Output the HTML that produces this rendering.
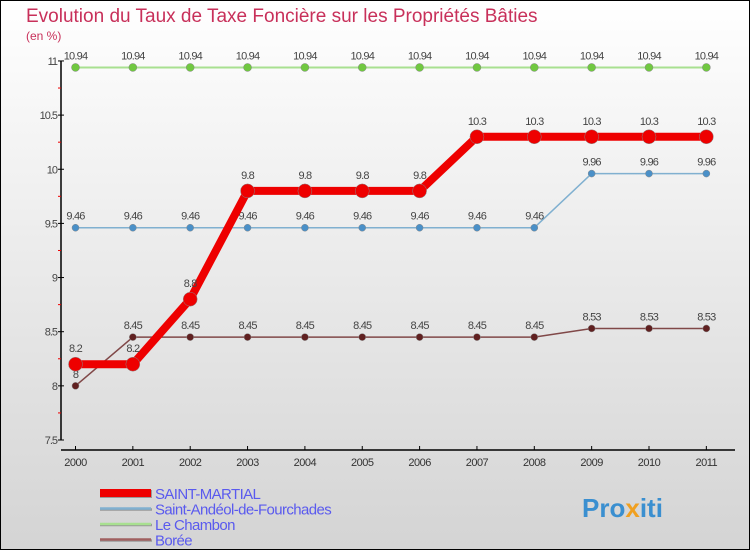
<!DOCTYPE html>
<html><head><meta charset="utf-8"><style>
body{margin:0}
svg text{font-family:"Liberation Sans",sans-serif}
</style></head><body>
<svg width="750" height="550" xmlns="http://www.w3.org/2000/svg">
<defs><linearGradient id="bg" x1="0" y1="0" x2="0" y2="1"><stop offset="0" stop-color="#ffffff"/><stop offset="1" stop-color="#d4d4d4"/></linearGradient></defs>
<rect x="0.5" y="0.5" width="749" height="549" fill="url(#bg)" stroke="#000"/>
<text x="26" y="22" font-size="19" fill="#c8305a">Evolution du Taux de Taxe Foncière sur les Propriétés Bâties</text>
<text x="26" y="40" font-size="12" fill="#c8305a">(en %)</text>
<g id="axes"></g>
<g id="series"></g>
<g id="legend"></g>
<text x="582" y="517" font-size="26" font-weight="bold" fill="#3a8fd0">Pro<tspan fill="#f0a020">x</tspan>iti</text>
</svg>
<script>
const years=["2000","2001","2002","2003","2004","2005","2006","2007","2008","2009","2010","2011"];
const yTicks=[7.5,8,8.5,9,9.5,10,10.5,11];
const saintMartial=[8.2,8.2,8.8,9.8,9.8,9.8,9.8,10.3,10.3,10.3,10.3,10.3];
const saintAndeol=[9.46,9.46,9.46,9.46,9.46,9.46,9.46,9.46,9.46,9.96,9.96,9.96];
const leChambon=[10.94,10.94,10.94,10.94,10.94,10.94,10.94,10.94,10.94,10.94,10.94,10.94];
const boree=[8,8.45,8.45,8.45,8.45,8.45,8.45,8.45,8.45,8.53,8.53,8.53];
const names=["SAINT-MARTIAL","Saint-Andéol-de-Fourchades","Le Chambon","Borée"];
const NS="http://www.w3.org/2000/svg";
const X=i=>75.5+i*57.35;
const Y=v=>440-(v-7.5)*108.3;
function mk(tag,attrs,parent,txt){const e=document.createElementNS(NS,tag);for(const k in attrs)e.setAttribute(k,attrs[k]);if(txt!==undefined)e.textContent=txt;parent.appendChild(e);return e;}
const ax=document.getElementById('axes');
let e=mk('line',{x1:61,y1:Y(11),x2:61,y2:440,stroke:'#000','stroke-width':1.5},ax);


e=mk('line',{x1:61,y1:450,x2:735,y2:450,stroke:'#000','stroke-width':1.5},ax);


yTicks.forEach((v,i)=>{
 mk('line',{x1:58,y1:Y(v),x2:64,y2:Y(v),stroke:'#000'},ax);
 if(i<yTicks.length-1) mk('line',{x1:58,y1:(Y(v)+Y(yTicks[i+1]))/2,x2:61,y2:(Y(v)+Y(yTicks[i+1]))/2,stroke:'#e00'},ax);
 const t=mk('text',{x:57,y:Y(v)+4,'font-size':11,fill:'#444','text-anchor':'end','letter-spacing':'-1'},ax,String(v));
 
 
});
years.forEach((y,i)=>{
 mk('line',{x1:X(i),y1:446,x2:X(i),y2:450,stroke:'#000'},ax);
 const t=mk('text',{x:X(i),y:466,'font-size':11,fill:'#333','text-anchor':'middle','letter-spacing':'-0.5'},ax,y);
 
 
});
const sg=document.getElementById('series');
function series(data,color,width,r,name,dotColor,labelDy){
 const g=mk('g',{},sg);
 
 
 mk('polyline',{points:data.map((v,i)=>X(i)+','+Y(v)).join(' '),fill:'none',stroke:color,'stroke-width':width,'stroke-linejoin':'round'},g);
 data.forEach((v,i)=>{
  const c=mk('circle',{cx:X(i),cy:Y(v),r:r,fill:dotColor,stroke:'#888','stroke-width':0.5},g);
  
  
  const t=mk('text',{x:X(i),y:Y(v)-labelDy,'font-size':11,fill:'#444','text-anchor':'middle','letter-spacing':'-0.8'},g,String(v));
  
  
 });
}
series(leChambon,'#a8e090',2,4,'le-chambon','#70c840',8);
series(saintAndeol,'#80b0d0',1.5,3.5,'saint-andeol','#4a90c8',8);
series(boree,'#804848',1.5,3.5,'boree','#602020',8);
series(saintMartial,'#ee0000',8,7,'saint-martial','#ee0000',12);
const lg=document.getElementById('legend');
const lc=['#ee0000','#80b0d0','#a8e090','#a06060'],lw=[8,2.5,2.5,2.5];
names.forEach((n,i)=>{
 const y=493+i*15.5;
 const g=mk('g',{},lg);
 
 
 mk('line',{x1:100,y1:y+1,x2:152,y2:y+1,stroke:'#999','stroke-width':lw[i]},g);
 mk('line',{x1:100,y1:y,x2:151,y2:y,stroke:lc[i],'stroke-width':lw[i]},g);
 mk('text',{x:155,y:y+6,'font-size':15,fill:'#5a5aee','letter-spacing':'-0.6'},g,n);
});
</script>
</body></html>
